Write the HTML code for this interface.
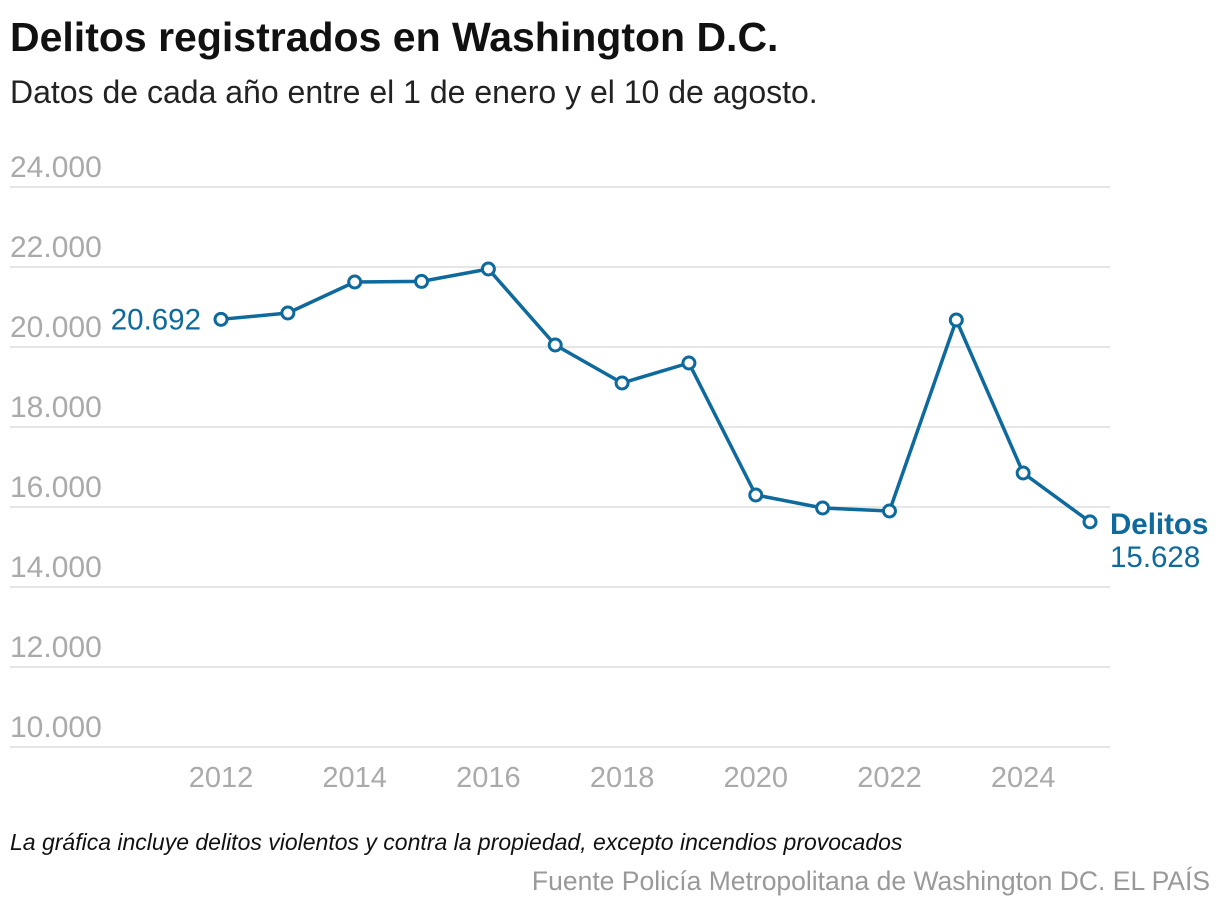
<!DOCTYPE html>
<html><head><meta charset="utf-8">
<style>
body{margin:0;background:#fff;width:1220px;height:914px;overflow:hidden;font-family:"Liberation Sans",sans-serif;}
#title{position:absolute;left:10px;top:14px;font-size:41px;font-weight:bold;color:#111;letter-spacing:0px}
#subtitle{position:absolute;left:10px;top:74px;font-size:32px;color:#222}
#note{position:absolute;left:10px;top:829px;font-size:23px;font-style:italic;color:#111}
#source{position:absolute;right:10px;top:866px;font-size:26.5px;color:#999}
svg{position:absolute;left:0;top:0}
</style></head><body>
<div id="title">Delitos registrados en Washington D.C.</div>
<div id="subtitle">Datos de cada año entre el 1 de enero y el 10 de agosto.</div>
<svg id="chart" width="1220" height="914"></svg>
<div id="note">La gráfica incluye delitos violentos y contra la propiedad, excepto incendios provocados</div>
<div id="source">Fuente Policía Metropolitana de Washington DC. EL PAÍS</div>
<script>
const years=[2012,2013,2014,2015,2016,2017,2018,2019,2020,2021,2022,2023,2024,2025];
const crimes=[20692,20850,21625,21640,21950,20050,19100,19600,16300,15975,15900,20675,16850,15628];
const yTicks=[10000,12000,14000,16000,18000,20000,22000,24000];
const yTickLabels=["10.000","12.000","14.000","16.000","18.000","20.000","22.000","24.000"];
const xTicks=[2012,2014,2016,2018,2020,2022,2024];
const NS="http://www.w3.org/2000/svg";
const svg=document.getElementById('chart');
const x=v=>221+(v-2012)*(1090-221)/13;
const y=v=>747-(v-10000)*0.04;
function mk(t,a){const e=document.createElementNS(NS,t);for(const k in a)e.setAttribute(k,a[k]);svg.appendChild(e);return e;}
yTicks.forEach((t,i)=>{
 const l=mk('line',{x1:10,x2:1110,y1:y(t),y2:y(t),stroke:'#ddd','stroke-width':1.5});
 
 
 const tx=mk('text',{x:10,y:y(t)-10,'font-size':30,fill:'#aaa','font-family':'Liberation Sans, sans-serif'});
 tx.textContent=yTickLabels[i];
 
 
});
xTicks.forEach(t=>{
 const tx=mk('text',{x:x(t),y:787,'font-size':29,fill:'#aaa','text-anchor':'middle','font-family':'Liberation Sans, sans-serif'});
 tx.textContent=t;
 
 
});
const p=mk('polyline',{points:years.map((yr,i)=>x(yr)+','+y(crimes[i])).join(' '),fill:'none',stroke:'#0e6a9c','stroke-width':3.5,'stroke-linejoin':'round'});


years.forEach((yr,i)=>{
 const c=mk('circle',{cx:x(yr),cy:y(crimes[i]),r:6,fill:'#fff',stroke:'#0e6a9c','stroke-width':3});
 
 
});
const fmt=v=>String(v).replace(/\B(?=(\d{3})+(?!\d))/g,'.');
const s=mk('text',{x:x(years[0])-20,y:y(crimes[0])+10,'font-size':29.5,fill:'#0e6a9c','text-anchor':'end','font-family':'Liberation Sans, sans-serif'});
s.textContent=fmt(crimes[0]);


const n=crimes.length-1;
const lab=mk('text',{x:x(years[n])+20,y:y(crimes[n])+12,'font-size':29.5,'font-weight':'bold',fill:'#0e6a9c','font-family':'Liberation Sans, sans-serif'});
lab.textContent='Delitos';


const e=mk('text',{x:x(years[n])+20,y:y(crimes[n])+45,'font-size':29.5,fill:'#0e6a9c','font-family':'Liberation Sans, sans-serif'});
e.textContent=fmt(crimes[n]);


</script>
</body></html>
